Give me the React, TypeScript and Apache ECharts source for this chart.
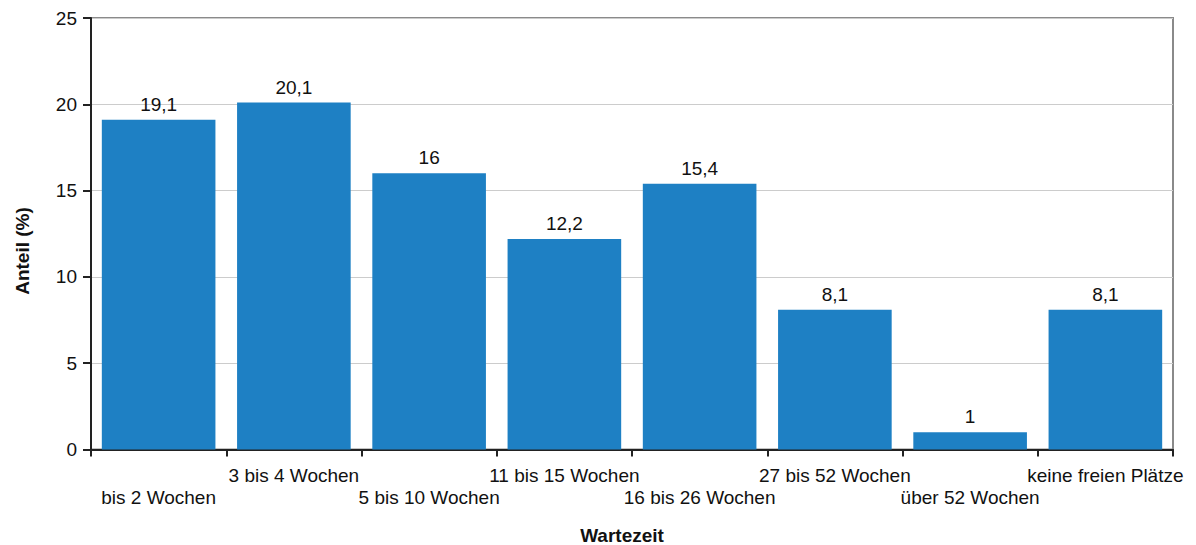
import React, { useEffect, useRef } from "react";
import * as echarts from "echarts";

const categories = [
  "bis 2 Wochen",
  "3 bis 4 Wochen",
  "5 bis 10 Wochen",
  "11 bis 15 Wochen",
  "16 bis 26 Wochen",
  "27 bis 52 Wochen",
  "über 52 Wochen",
  "keine freien Plätze",
];
const values = [19.1, 20.1, 16, 12.2, 15.4, 8.1, 1, 8.1];
const yTicks = { min: 0, max: 25, interval: 5 };
const xTitle = "Wartezeit";
const yTitle = "Anteil (%)";

const FONT = "'Liberation Sans', Arial, Helvetica, sans-serif";

export default function App() {
  const ref = useRef<HTMLDivElement>(null);
  useEffect(() => {
    if (!ref.current) return;
    const chart = echarts.init(ref.current, null, { renderer: "svg" });
    chart.setOption({
      animation: false,
      textStyle: { fontFamily: FONT },
      grid: {
        left: 91,
        right: 23,
        top: 18,
        bottom: 95.5,
        show: true,
        borderColor: "#8a8a8a",
        borderWidth: 2,
        backgroundColor: "transparent",
      },
      xAxis: {
        type: "category",
        data: categories,
        axisLine: { show: true, lineStyle: { color: "#222", width: 2 } },
        axisTick: { show: true, alignWithLabel: false, length: 7, lineStyle: { color: "#222", width: 2 } },
        axisLabel: {
          interval: 0,
          color: "#111",
          fontSize: 19,
          fontFamily: FONT,
          margin: 15,
          lineHeight: 22,
          formatter: (v: string, i: number) => (i % 2 === 0 ? "\n" + v : v),
        },
        splitLine: { show: false },
      },
      yAxis: {
        type: "value",
        min: yTicks.min,
        max: yTicks.max,
        interval: yTicks.interval,
        axisLine: { show: true, lineStyle: { color: "#222", width: 2 } },
        axisTick: { show: true, length: 8, lineStyle: { color: "#222", width: 2 } },
        axisLabel: { color: "#111", fontSize: 19, fontFamily: FONT, margin: 14 },
        splitLine: { show: true, lineStyle: { color: "#cccccc", width: 1 } },
      },
      series: [
        {
          type: "bar",
          data: values,
          barCategoryGap: "16%",
          itemStyle: { color: "#1e80c4" },
          label: {
            show: true,
            position: "top",
            distance: 6,
            color: "#111",
            fontSize: 19,
            fontFamily: FONT,
            formatter: (p: any) => String(p.value).replace(".", ","),
          },
        },
      ],
      graphic: [
        {
          type: "text",
          x: 622,
          y: 535,
          style: {
            text: xTitle,
            font: `bold 19px ${FONT}`,
            fill: "#111",
            align: "center",
            verticalAlign: "middle",
          },
        },
        {
          type: "text",
          x: 22,
          y: 251,
          rotation: Math.PI / 2,
          style: {
            text: yTitle,
            font: `bold 19px ${FONT}`,
            fill: "#111",
            align: "center",
            verticalAlign: "middle",
          },
        },
      ],
    });
    return () => chart.dispose();
  }, []);
  return <div ref={ref} style={{ width: 1196, height: 545, position: "absolute", left: 0, top: 0 }} />;
}
